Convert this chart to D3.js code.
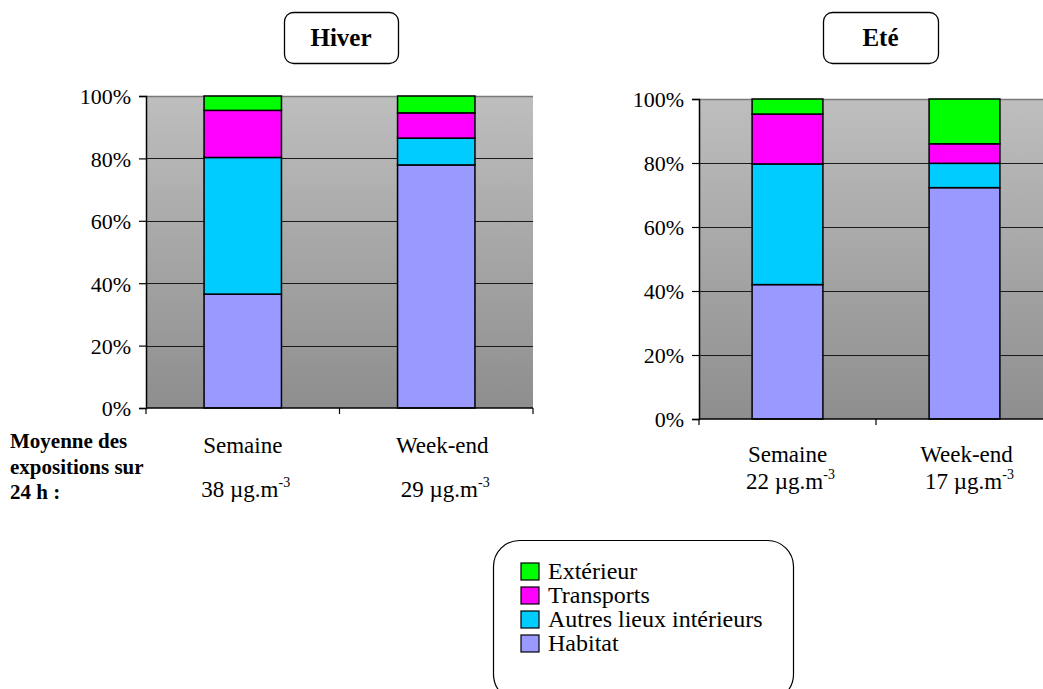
<!DOCTYPE html>
<html>
<head>
<meta charset="utf-8">
<script src="https://cdn.jsdelivr.net/npm/d3@7"></script>
<style>
  html, body { margin: 0; padding: 0; background: #fff; }
  svg { display: block; }
</style>
</head>
<body>
<svg id="chart" width="1043" height="689"></svg>
<script>
const SERIF = '"Liberation Serif"';

// Categories and series
const categories = ["Semaine", "Week-end"];
const seriesNames = ["Habitat", "Autres lieux intérieurs", "Transports", "Extérieur"];
const seriesColors = ["#9999ff", "#00ccff", "#ff00ff", "#00ff00"];
const legendOrder = ["Extérieur", "Transports", "Autres lieux intérieurs", "Habitat"];

// Share of exposure (%) — winter
const habitatHiver = [36.5, 77.9];
const autresHiver = [43.8, 8.6];
const transportsHiver = [15.1, 8.1];
const exterieurHiver = [4.6, 5.4];

// Share of exposure (%) — summer
const habitatEte = [42.0, 72.3];
const autresEte = [37.7, 7.6];
const transportsEte = [15.6, 6.1];
const exterieurEte = [4.7, 14.0];

// Mean 24 h exposure (µg.m-3)
const moyenneHiver = [38, 29];
const moyenneEte = [22, 17];

const yTicks = [0, 20, 40, 60, 80, 100];

const svg = d3.select("#chart");
const defs = svg.append("defs");
const grad = defs.append("linearGradient")
  .attr("id", "plotBg").attr("x1", 0).attr("y1", 0).attr("x2", 0).attr("y2", 1);
grad.append("stop").attr("offset", "0%").attr("stop-color", "#bebebe");
grad.append("stop").attr("offset", "100%").attr("stop-color", "#8e8e8e");

const color = d3.scaleOrdinal().domain(seriesNames).range(seriesColors);

function rows(h, a, t, e) {
  return categories.map((c, i) => ({
    cat: c,
    "Habitat": h[i],
    "Autres lieux intérieurs": a[i],
    "Transports": t[i],
    "Extérieur": e[i]
  }));
}

function drawPanel(opts) {
  const { x0, x1, y0, y1, data, moyenne, title, titleBox, labelY, valueY, labelDx } = opts;
  const g = svg.append("g");

  const x = d3.scaleBand().domain(categories).range([x0, x1]).paddingInner(0).paddingOuter(0);
  const y = d3.scaleLinear().domain([0, 100]).range([y1, y0]);

  // Plot background
  g.append("rect")
    .attr("x", x0).attr("y", y0)
    .attr("width", x1 - x0).attr("height", y1 - y0)
    .attr("fill", "url(#plotBg)");
  g.append("line")
    .attr("x1", x0).attr("x2", x1).attr("y1", y0 + 0.5).attr("y2", y0 + 0.5)
    .attr("stroke", "#7a7a7a").attr("stroke-width", 1.5);

  // Horizontal gridlines
  g.selectAll(".grid").data(yTicks.filter(v => v > 0 && v < 100)).join("line")
    .attr("x1", x0).attr("x2", x1)
    .attr("y1", d => Math.round(y(d)) + 0.5).attr("y2", d => Math.round(y(d)) + 0.5)
    .attr("stroke", "#1a1a1a").attr("stroke-width", 1.2);

  // Stacked bars
  const stacked = d3.stack().keys(seriesNames)(data);
  const bw = x.bandwidth() * 0.4;
  g.selectAll(".layer").data(stacked).join("g")
    .attr("fill", d => color(d.key))
    .selectAll("rect").data(d => d).join("rect")
    .attr("x", d => x(d.data.cat) + (x.bandwidth() - bw) / 2)
    .attr("y", d => y(d[1]))
    .attr("width", bw)
    .attr("height", d => y(d[0]) - y(d[1]))
    .attr("stroke", "#000").attr("stroke-width", 1.5);

  // Y axis
  const yAxis = d3.axisLeft(y).tickValues(yTicks).tickFormat(d => d + "%").tickSize(7).tickPadding(8);
  const ya = g.append("g").attr("transform", `translate(${x0},0)`).call(yAxis);
  ya.select(".domain").attr("stroke", "#000").attr("stroke-width", 1.5);
  ya.selectAll(".tick line").attr("stroke", "#000").attr("stroke-width", 1.2);
  ya.selectAll(".tick text").attr("fill", "#000").attr("dy", "0.36em")
    .style("font-size", "22px");

  // X axis: ticks on category boundaries
  g.append("line")
    .attr("x1", x0).attr("x2", x1).attr("y1", y1).attr("y2", y1)
    .attr("stroke", "#000").attr("stroke-width", 1.5);
  const bounds = [x0].concat(categories.map(c => x(c) + x.bandwidth()));
  g.selectAll(".xtick").data(bounds).join("line")
    .attr("x1", d => d).attr("x2", d => d).attr("y1", y1).attr("y2", y1 + 6)
    .attr("stroke", "#000").attr("stroke-width", 1.2);

  // Category labels and mean exposure values
  categories.forEach((c, i) => {
    const cx = x(c) + x.bandwidth() / 2 + labelDx[i];
    g.append("text")
      .attr("x", cx).attr("y", labelY)
      .attr("text-anchor", "middle").style("font-size", "23px")
      .text(c);
    const t = g.append("text")
      .attr("x", cx + 3).attr("y", valueY)
      .attr("text-anchor", "middle").style("font-size", "23px");
    t.append("tspan").text(moyenne[i] + " µg.m");
    t.append("tspan").style("font-size", "14px").attr("dy", -10).text("-3");
  });

  // Title box
  g.append("rect")
    .attr("x", titleBox[0] + 0.5).attr("y", titleBox[1] + 0.5)
    .attr("width", titleBox[2]).attr("height", titleBox[3])
    .attr("rx", 9).attr("ry", 9)
    .attr("fill", "#fff").attr("stroke", "#000").attr("stroke-width", 1.3);
  g.append("text")
    .attr("x", titleBox[0] + titleBox[2] / 2).attr("y", titleBox[1] + titleBox[3] / 2 + 8)
    .attr("text-anchor", "middle").style("font-size", "25px").style("font-weight", "bold")
    .text(title);
}

drawPanel({
  x0: 146, x1: 533, y0: 96, y1: 408,
  data: rows(habitatHiver, autresHiver, transportsHiver, exterieurHiver),
  moyenne: moyenneHiver,
  title: "Hiver", titleBox: [284, 12, 114, 51],
  labelY: 453, valueY: 497, labelDx: [0, 6]
});

drawPanel({
  x0: 699, x1: 1053, y0: 99, y1: 419,
  data: rows(habitatEte, autresEte, transportsEte, exterieurEte),
  moyenne: moyenneEte,
  title: "Eté", titleBox: [823, 12, 115, 51],
  labelY: 462, valueY: 489, labelDx: [0, 2]
});

// Row header for the mean values
const hdr = svg.append("text").style("font-size", "21px").style("font-weight", "bold");
["Moyenne des", "expositions sur", "24 h :"].forEach((s, i) => {
  hdr.append("tspan").attr("x", 10).attr("y", 448 + i * 25.5).text(s);
});

// Legend
const lg = svg.append("g");
lg.append("rect")
  .attr("x", 493.5).attr("y", 540.5).attr("width", 300).attr("height", 160)
  .attr("rx", 26).attr("ry", 26)
  .attr("fill", "#fff").attr("stroke", "#000").attr("stroke-width", 1.2);
const items = lg.selectAll(".item").data(legendOrder).join("g")
  .attr("transform", (d, i) => `translate(521,${563 + i * 24})`);
items.append("rect")
  .attr("width", 18).attr("height", 17)
  .attr("fill", d => color(d)).attr("stroke", "#000").attr("stroke-width", 1.2);
items.append("text")
  .attr("x", 27).attr("y", 16)
  .style("font-size", "24px")
  .text(d => d);

// Serif face for every label
svg.selectAll("text").style("font-family", SERIF).style("fill", "#000");
</script>
</body>
</html>
